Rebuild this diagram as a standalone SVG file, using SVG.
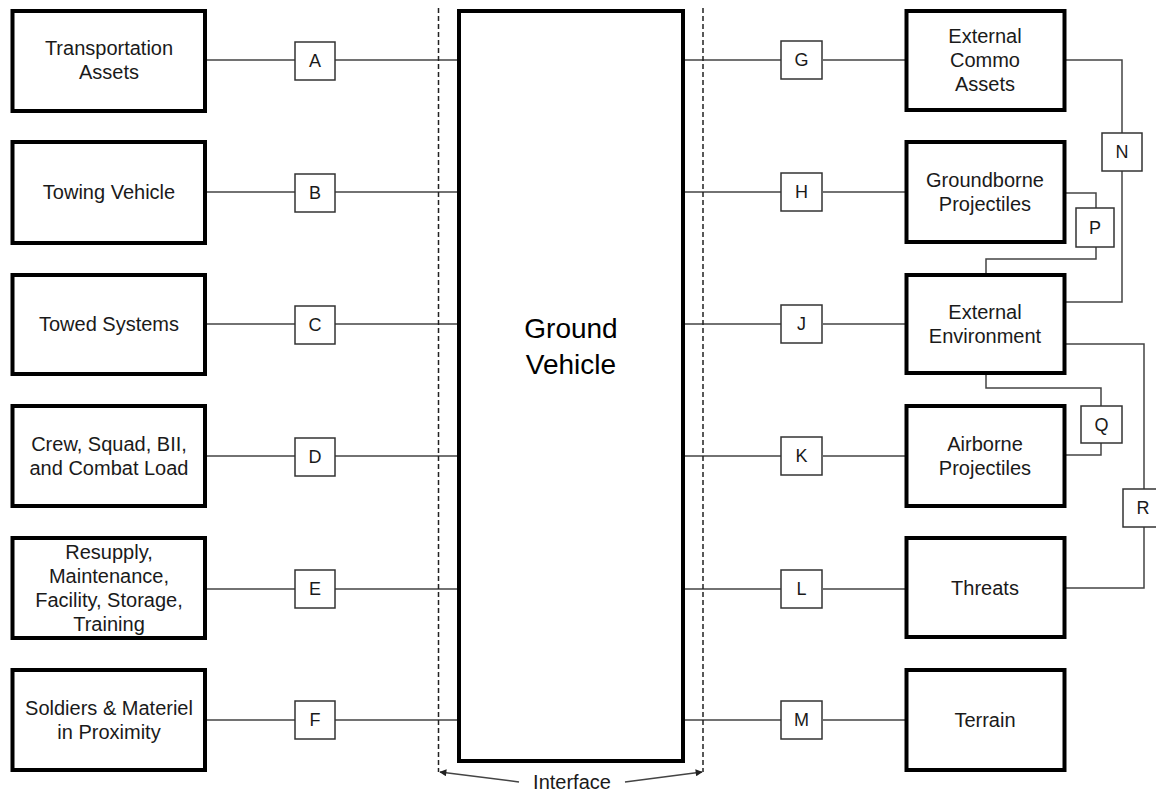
<svg xmlns="http://www.w3.org/2000/svg" width="1156" height="794" viewBox="0 0 1156 794">
<style>
  .node { fill: #ffffff; stroke: #000000; stroke-width: 4; }
  .lbl { fill: #ffffff; stroke: #333333; stroke-width: 1.5; }
  .t { font-family: "Liberation Sans", Arial, sans-serif; font-size: 20px; fill: #1a1a1a; text-anchor: middle; }
  .lt { font-family: "Liberation Sans", Arial, sans-serif; font-size: 18px; fill: #1a1a1a; text-anchor: middle; }
  .big { font-family: "Liberation Sans", Arial, sans-serif; font-size: 28px; fill: #000000; text-anchor: middle; }
  .c { fill: none; stroke: #444444; stroke-width: 1.5; }
  .dash { fill: none; stroke: #222222; stroke-width: 1.5; stroke-dasharray: 5 3; }
</style>
<defs>
  <marker id="ah" viewBox="0 0 10 10" refX="9" refY="5" markerWidth="9" markerHeight="7" markerUnits="userSpaceOnUse" orient="auto">
    <path d="M0,0 L10,5 L0,10 z" fill="#222222"/>
  </marker>
</defs>
<rect width="1156" height="794" fill="#ffffff"/>

<g id="connectors">
  <!-- left side -->
  <path class="c" d="M206,60 H295 M335,60 H459"/>
  <path class="c" d="M206,192 H295 M335,192 H459"/>
  <path class="c" d="M206,324 H295 M335,324 H459"/>
  <path class="c" d="M206,456 H295 M335,456 H459"/>
  <path class="c" d="M206,589 H295 M335,589 H459"/>
  <path class="c" d="M206,720 H295 M335,720 H459"/>
  <!-- right side -->
  <path class="c" d="M683,60 H781 M823,60 H906"/>
  <path class="c" d="M683,192 H781 M823,192 H906"/>
  <path class="c" d="M683,324 H781 M823,324 H906"/>
  <path class="c" d="M683,456 H781 M823,456 H906"/>
  <path class="c" d="M683,589 H781 M823,589 H906"/>
  <path class="c" d="M683,720 H781 M823,720 H906"/>
  <!-- N -->
  <path class="c" d="M1066,60 H1122 V133 M1122,171 V302 H1066"/>
  <!-- P -->
  <path class="c" d="M1066,193 H1096 V208 M1096,247 V259 H986 V273"/>
  <!-- Q -->
  <path class="c" d="M986,374 V388 H1101 V406 M1101,443 V455 H1066"/>
  <!-- R -->
  <path class="c" d="M1066,344 H1144 V489 M1144,527 V588 H1066"/>
  <!-- interface boundary -->
  <path class="dash" d="M438.5,8 V772"/>
  <path class="dash" d="M703,8 V772"/>
  <path class="c" d="M519,782 L440,772" stroke="#222222" marker-end="url(#ah)"/>
  <path class="c" d="M625,782 L702,772" stroke="#222222" marker-end="url(#ah)"/>
</g>

<g id="ground-vehicle">
  <rect class="node" x="459" y="11" width="224" height="750"/>
  <text class="big" x="571" y="338">Ground</text>
  <text class="big" x="571" y="374">Vehicle</text>
</g>

<g id="transportation-assets">
  <rect class="node" x="12.5" y="11" width="192.5" height="100"/>
  <text class="t" x="109" y="55">Transportation</text>
  <text class="t" x="109" y="79">Assets</text>
</g>
<g id="towing-vehicle">
  <rect class="node" x="12.5" y="142" width="192.5" height="101"/>
  <text class="t" x="109" y="199">Towing Vehicle</text>
</g>
<g id="towed-systems">
  <rect class="node" x="12.5" y="275" width="192.5" height="99"/>
  <text class="t" x="109" y="331">Towed Systems</text>
</g>
<g id="crew">
  <rect class="node" x="12.5" y="406" width="192.5" height="100"/>
  <text class="t" x="109" y="451">Crew, Squad, BII,</text>
  <text class="t" x="109" y="475">and Combat Load</text>
</g>
<g id="resupply">
  <rect class="node" x="12.5" y="538" width="192.5" height="100"/>
  <text class="t" x="109" y="559">Resupply,</text>
  <text class="t" x="109" y="583">Maintenance,</text>
  <text class="t" x="109" y="607">Facility, Storage,</text>
  <text class="t" x="109" y="631">Training</text>
</g>
<g id="soldiers">
  <rect class="node" x="12.5" y="670" width="192.5" height="100"/>
  <text class="t" x="109" y="715">Soldiers &amp; Materiel</text>
  <text class="t" x="109" y="739">in Proximity</text>
</g>

<g id="external-commo">
  <rect class="node" x="906.5" y="11" width="158" height="99"/>
  <text class="t" x="985" y="43">External</text>
  <text class="t" x="985" y="67">Commo</text>
  <text class="t" x="985" y="91">Assets</text>
</g>
<g id="groundborne">
  <rect class="node" x="906.5" y="142" width="158" height="100"/>
  <text class="t" x="985" y="187">Groundborne</text>
  <text class="t" x="985" y="211">Projectiles</text>
</g>
<g id="external-environment">
  <rect class="node" x="906.5" y="275" width="158" height="98"/>
  <text class="t" x="985" y="319">External</text>
  <text class="t" x="985" y="343">Environment</text>
</g>
<g id="airborne">
  <rect class="node" x="906.5" y="406" width="158" height="100"/>
  <text class="t" x="985" y="451">Airborne</text>
  <text class="t" x="985" y="475">Projectiles</text>
</g>
<g id="threats">
  <rect class="node" x="906.5" y="538" width="158" height="99"/>
  <text class="t" x="985" y="595">Threats</text>
</g>
<g id="terrain">
  <rect class="node" x="906.5" y="670" width="158" height="100"/>
  <text class="t" x="985" y="727">Terrain</text>
</g>

<g id="labels">
  <g id="lbl-A"><rect class="lbl" x="295" y="42" width="40" height="38"/><text class="lt" x="315" y="67">A</text></g>
  <g id="lbl-B"><rect class="lbl" x="295" y="174" width="40" height="38"/><text class="lt" x="315" y="199">B</text></g>
  <g id="lbl-C"><rect class="lbl" x="295" y="306" width="40" height="38"/><text class="lt" x="315" y="331">C</text></g>
  <g id="lbl-D"><rect class="lbl" x="295" y="438" width="40" height="38"/><text class="lt" x="315" y="463">D</text></g>
  <g id="lbl-E"><rect class="lbl" x="295" y="570" width="40" height="38"/><text class="lt" x="315" y="595">E</text></g>
  <g id="lbl-F"><rect class="lbl" x="295" y="701" width="40" height="38"/><text class="lt" x="315" y="726">F</text></g>
  <g id="lbl-G"><rect class="lbl" x="781" y="41" width="41" height="38"/><text class="lt" x="801.5" y="66">G</text></g>
  <g id="lbl-H"><rect class="lbl" x="781" y="173" width="41" height="38"/><text class="lt" x="801.5" y="198">H</text></g>
  <g id="lbl-J"><rect class="lbl" x="781" y="305" width="41" height="38"/><text class="lt" x="801.5" y="330">J</text></g>
  <g id="lbl-K"><rect class="lbl" x="781" y="437" width="41" height="38"/><text class="lt" x="801.5" y="462">K</text></g>
  <g id="lbl-L"><rect class="lbl" x="781" y="570" width="41" height="38"/><text class="lt" x="801.5" y="595">L</text></g>
  <g id="lbl-M"><rect class="lbl" x="781" y="701" width="41" height="38"/><text class="lt" x="801.5" y="726">M</text></g>
  <g id="lbl-N"><rect class="lbl" x="1102" y="133" width="40" height="38"/><text class="lt" x="1122" y="158">N</text></g>
  <g id="lbl-P"><rect class="lbl" x="1076" y="208" width="38" height="39"/><text class="lt" x="1095" y="234">P</text></g>
  <g id="lbl-Q"><rect class="lbl" x="1081" y="406" width="41" height="37"/><text class="lt" x="1101.5" y="431">Q</text></g>
  <g id="lbl-R"><rect class="lbl" x="1123" y="489" width="40" height="38"/><text class="lt" x="1143" y="514">R</text></g>
</g>

<text class="t" x="572" y="789">Interface</text>
</svg>
